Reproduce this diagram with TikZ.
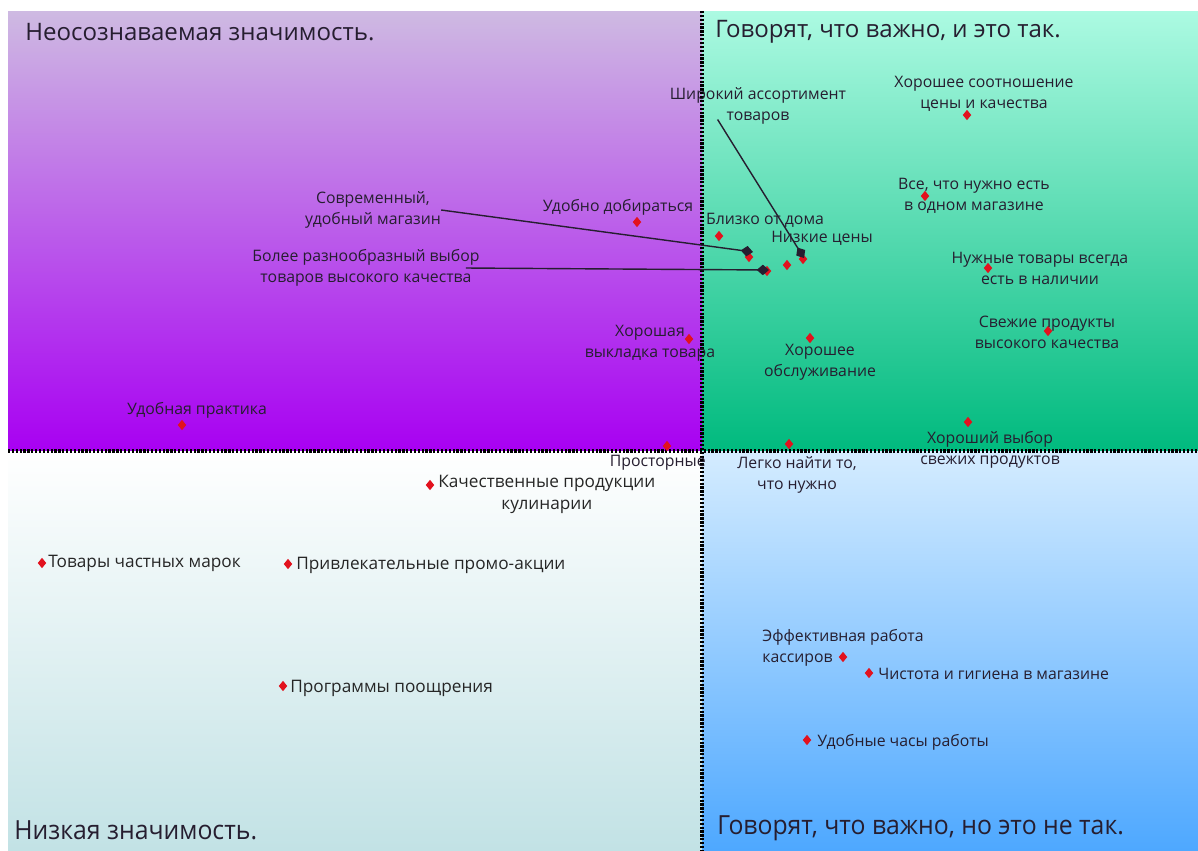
\documentclass[tikz,border=0pt]{standalone}
\usepackage{fontspec}
\setmainfont{Open Sans}
\newfontfamily\condfont[FakeStretch=0.94]{Open Sans}
\usetikzlibrary{arrows.meta,positioning,shapes.geometric}
\definecolor{vtop}{RGB}{206,186,226}
\definecolor{vmid}{RGB}{196,128,240}
\definecolor{vbot}{RGB}{168,0,242}
\definecolor{gtop}{RGB}{172,250,226}
\definecolor{gmid}{RGB}{20,226,164}
\definecolor{gbot}{RGB}{0,186,126}
\definecolor{wbot}{RGB}{194,226,229}
\definecolor{btop}{RGB}{212,236,255}
\definecolor{bbot}{RGB}{78,168,255}
\definecolor{mred}{RGB}{226,18,30}
\definecolor{ink}{RGB}{38,30,48}

\begin{document}
\begin{tikzpicture}[x=0.02cm, y=-0.02cm,
  lbl/.style={font=\fontsize{9}{12}\selectfont, align=center, text=ink, inner sep=0pt},
  blbl/.style={lbl, font=\fontsize{9.8}{12.5}\selectfont, text=black!85},
  head/.style={font=\fontsize{13.7}{16}\selectfont, anchor=west, text=ink, inner sep=0pt},
  lowhead/.style={head, font=\condfont\fontsize{15}{17}\selectfont},
  rdot/.style={diamond, fill=mred, inner sep=0pt, minimum width=5pt, minimum height=6pt},
  qline/.style={line width=2.1pt, dash pattern=on 1.3pt off 0.9pt},
  parr/.style={-{Diamond[length=7pt,width=6pt]}, thick, draw=ink}
]
\useasboundingbox (0,0) rectangle (1198,850);

% Quadrants
\shade[top color=vtop, middle color=vmid, bottom color=vbot] (8,11) rectangle (702,451);
\shade[top color=gtop, middle color=gmid, bottom color=gbot] (702,11) rectangle (1198,451);
\shade[top color=white, bottom color=wbot] (8,451) rectangle (702,850);
\shade[top color=btop, bottom color=bbot] (702,451) rectangle (1198,850);

% Axes
\coordinate (ytop) at (702,11);
\coordinate (ybot) at (702,850);
\coordinate (xleft) at (8,451);
\coordinate (xright) at (1198,451);
\draw[qline] (ytop) -- (ybot);
\draw[qline] (xleft) -- (xright);

% Quadrant titles
\node[head] (tl) at (25,32) {Неосознаваемая значимость.};
\node[head] (tr) at (715,32) {Говорят, что важно, и это так.};
\node[lowhead] (bl) at (14,830) {Низкая значимость.};
\node[lowhead] (br) at (717,828) {Говорят, что важно, но это не так.};

% Markers, upper half
\node[rdot] (mreach)   at (637,222) {};
\node[rdot] (mclose)   at (719,236) {};
\node[rdot] (mmodern)  at (749,257) {};
\node[rdot] (mvaried)  at (767,271) {};
\node[rdot] (mprice)   at (787,265) {};
\node[rdot] (mwide)    at (803,259) {};
\node[rdot] (mdisplay) at (689,339) {};
\node[rdot] (mservice) at (810,338) {};
\node[rdot] (mpract)   at (182,425) {};
\node[rdot] (mspace)   at (667,446) {};
\node[rdot] (measy)    at (789,444) {};
\node[rdot] (mratio)   at (967,115) {};
\node[rdot] (mallin)   at (925,196) {};
\node[rdot] (mstock)   at (988,268) {};
\node[rdot] (mfresh)   at (1048,331) {};
\node[rdot] (mchoice)  at (968,422) {};

% Labels, upper half
\node[lbl] (wide)     at (758,106) {Широкий ассортимент\\товаров};
\node[lbl] (ratio)    at (984,94)  {Хорошее соотношение\\цены и качества};
\node[lbl] (allin)    at (974,196) {Все, что нужно есть\\в одном магазине};
\node[lbl] (modern)   at (373,210) {Современный,\\удобный магазин};
\node[lbl] (reach)    at (618,207) {Удобно добираться};
\node[lbl] (close)    at (765,220) {Близко от дома};
\node[lbl] (price)    at (822,238) {Низкие цены};
\node[lbl] (varied)   at (366,268) {Более разнообразный выбор\\товаров высокого качества};
\node[lbl] (stock)    at (1040,268) {Нужные товары всегда\\есть в наличии};
\node[lbl] (fresh)    at (1047,332) {Свежие продукты\\высокого качества};
\node[lbl] (display)  at (650,343) {Хорошая\\выкладка товара};
\node[lbl] (service)  at (820,362) {Хорошее\\обслуживание};
\node[lbl] (pract)    at (197,410) {Удобная практика};
\node[lbl] (choice)   at (990,450) {Хороший выбор\\свежих продуктов};
\node[lbl, anchor=east] (space) at (706,463) {Просторные};
\node[lbl] (easy)     at (797,475) {Легко найти то,\\что нужно};

% Pointers
\coordinate (tmodern) at (753,252);
\coordinate (tvaried) at (769,270);
\coordinate (twide)   at (804,258);
\draw[parr] (modern.east) -- (tmodern);
\draw[parr] ([xshift=-8pt]varied.east) -- (tvaried);
\draw[parr] ([xshift=-23pt,yshift=3pt]wide.south) -- (twide);

% Lower half
\node[rdot] (mcook)   at (430,485) {};
\node[blbl, anchor=north west] (cook) at (438,475) {Качественные продукции\\кулинарии};
\node[rdot] (mbrand)  at (42,563) {};
\node[blbl, anchor=west] (brand) at (48,563) {Товары частных марок};
\node[rdot] (mpromo)  at (288,564) {};
\node[blbl, anchor=west] (promo) at (296,565) {Привлекательные промо-акции};
\node[rdot] (mloyal)  at (283,686) {};
\node[blbl, anchor=west] (loyal) at (290,688) {Программы поощрения};
\node[lbl, anchor=north west, align=left] (cash) at (762,629) {Эффективная работа\\кассиров};
\node[rdot] (mcash)   at (843,657) {};
\node[rdot] (mclean)  at (869,673) {};
\node[lbl, anchor=west] (clean) at (878,674) {Чистота и гигиена в магазине};
\node[rdot] (mhours)  at (807,740) {};
\node[lbl, anchor=west] (hours) at (817,742) {Удобные часы работы};
\end{tikzpicture}
\end{document}
